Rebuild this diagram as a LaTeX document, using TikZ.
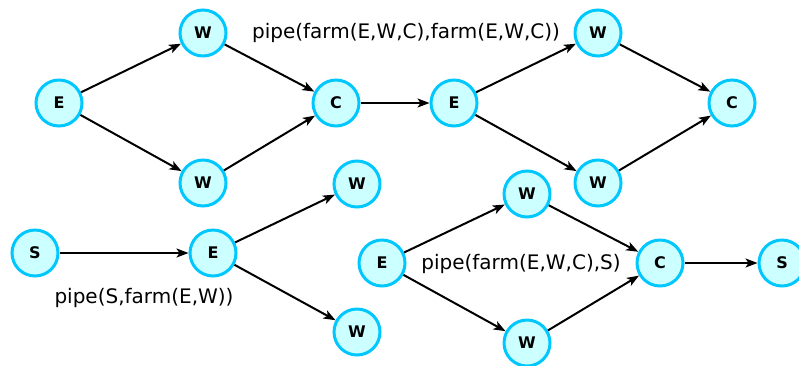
\documentclass[tikz,border=0pt]{standalone}
\usepackage{fontspec}
\setmainfont{DejaVu Sans}
\usepackage{tikz}
\usetikzlibrary{positioning,arrows.meta}
\definecolor{ringcol}{RGB}{0,200,255}
\definecolor{fillcol}{RGB}{204,255,255}

\begin{document}
\begin{tikzpicture}[x=1pt,y=-1pt,
        stage/.style={circle,draw=ringcol,fill=fillcol,line width=3pt,minimum size=46pt,inner sep=0pt,font=\fontsize{16}{16}\selectfont\bfseries},
        flow/.style={-{Stealth[length=12pt,width=9pt,inset=3pt]},line width=2pt},
        lbl/.style={font=\fontsize{20}{20}\selectfont}]
            \useasboundingbox (0,0) rectangle (799,365);
            % pipe of two farms
            \node[stage] (e1) at (59,103) {E};
            \node[stage] (w1) at (203,33) {W};
            \node[stage] (w2) at (203,183) {W};
            \node[stage] (c1) at (336,103) {C};
            \node[stage] (e2) at (454,103) {E};
            \node[stage] (w3) at (598,33) {W};
            \node[stage] (w4) at (598,183) {W};
            \node[stage] (c2) at (732,103) {C};
            \node[lbl] (t1) at (406,33) {pipe(farm(E,W,C),farm(E,W,C))};
            \foreach \a/\b in {e1/w1,e1/w2,w1/c1,w2/c1,c1/e2,e2/w3,e2/w4,w3/c2,w4/c2} {
                \draw[flow] (\a) -- (\b);
            }
            % source then farm
            \node[stage] (s1) at (35,253) {S};
            \node[stage] (e3) at (213,253) {E};
            \node[stage] (w5) at (357,184) {W};
            \node[stage] (w6) at (357,332) {W};
            \node[lbl] (t2) at (144,298) {pipe(S,farm(E,W))};
            \foreach \a/\b in {s1/e3,e3/w5,e3/w6} {
                \draw[flow] (\a) -- (\b);
            }
            % farm then sink
            \node[stage] (e4) at (382,263) {E};
            \node[stage] (w7) at (527,194) {W};
            \node[stage] (w8) at (527,343) {W};
            \node[stage] (c3) at (660,263) {C};
            \node[stage] (s2) at (782,263) {S};
            \node[lbl] (t3) at (521,264) {pipe(farm(E,W,C),S)};
            \foreach \a/\b in {e4/w7,e4/w8,w7/c3,w8/c3,c3/s2} {
                \draw[flow] (\a) -- (\b);
            }
        \end{tikzpicture}
\end{document}
